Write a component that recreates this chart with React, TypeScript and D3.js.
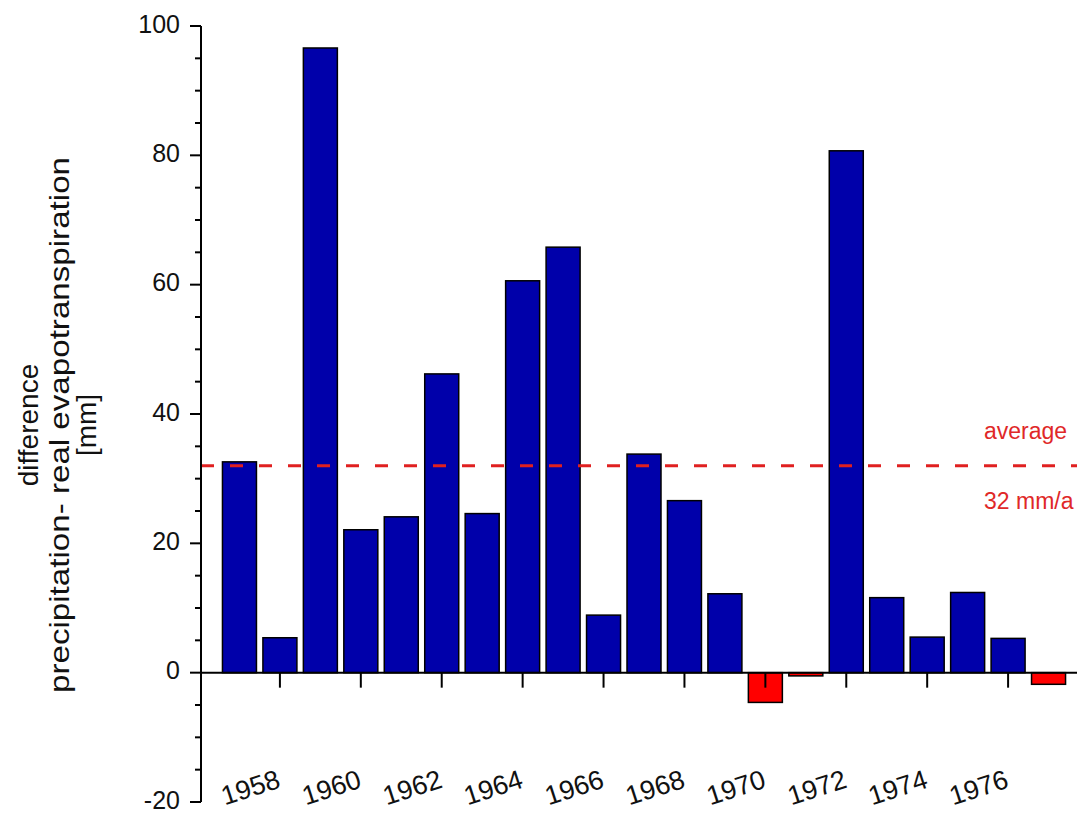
import React from "react";
import * as d3 from "d3";

// Annual difference precipitation - real evapotranspiration [mm]
const years = [
  1957, 1958, 1959, 1960, 1961, 1962, 1963, 1964, 1965, 1966, 1967,
  1968, 1969, 1970, 1971, 1972, 1973, 1974, 1975, 1976, 1977,
];
const values = [
  32.6, 5.4, 96.6, 22.1, 24.1, 46.2, 24.6, 60.6, 65.8, 8.9, 33.8,
  26.6, 12.2, -4.6, -0.5, 80.7, 11.6, 5.5, 12.4, 5.3, -1.8,
];
const yMajorTicks = [-20, 0, 20, 40, 60, 80, 100];
const xTickYears = [1958, 1960, 1962, 1964, 1966, 1968, 1970, 1972, 1974, 1976];
const averageValue = 32;
const averageLabels = ["average", "32 mm/a"];
const yTitleLines = ["difference", "precipitation- real evapotranspiration", "[mm]"];

const W = 1077;
const H = 814;
const FONT = "Arial, 'Liberation Sans', Helvetica, sans-serif";

export default function App() {
  const x = d3.scaleLinear().domain([1956, 1978]).range([199, 1089]);
  const y = d3.scaleLinear().domain([-20, 100]).range([802, 26]);
  const axisX = 201;
  const barHalf = 17;
  const minorTicks = d3.range(-20, 100.01, 5);

  return (
    <div style={{ position: "absolute", left: 0, top: 0 }}>
      <svg width={W} height={H} style={{ display: "block", background: "#fff" }}>
        {/* bars */}
        {years.map((yr, i) => {
          const v = values[i];
          const y0 = y(0);
          const yv = y(v);
          return (
            <rect
              key={yr}
              x={x(yr) - barHalf}
              y={Math.min(y0, yv)}
              width={barHalf * 2}
              height={Math.abs(yv - y0)}
              fill={v >= 0 ? "#0000aa" : "#ff0000"}
              stroke="#000"
              strokeWidth={1.5}
            />
          );
        })}

        {/* average line */}
        <line
          x1={axisX}
          x2={W}
          y1={y(averageValue)}
          y2={y(averageValue)}
          stroke="#e02020"
          strokeWidth={2.8}
          strokeDasharray="13 16"
        />
        <text x={984} y={y(averageValue) - 27} fill="#e02828" fontFamily={FONT} fontSize={23}>
          {averageLabels[0]}
        </text>
        <text x={984} y={y(averageValue) + 43} fill="#e02828" fontFamily={FONT} fontSize={23}>
          {averageLabels[1]}
        </text>

        {/* x axis at zero */}
        <line x1={axisX} x2={W} y1={y(0)} y2={y(0)} stroke="#000" strokeWidth={2} />
        {xTickYears.map((yr) => (
          <g key={yr}>
            <line x1={x(yr)} x2={x(yr)} y1={y(0)} y2={y(0) + 15} stroke="#000" strokeWidth={2} />
            <text
              transform={`translate(${x(yr) + 2},${787}) rotate(-18)`}
              textAnchor="end"
              fontFamily={FONT}
              fontSize={27}
              fill="#111"
            >
              {yr}
            </text>
          </g>
        ))}

        {/* y axis */}
        <line x1={axisX} x2={axisX} y1={y(100)} y2={y(-20)} stroke="#000" strokeWidth={2} />
        {minorTicks.map((t) => (
          <line
            key={t}
            x1={axisX - (t % 20 === 0 ? 11 : 6)}
            x2={axisX}
            y1={y(t)}
            y2={y(t)}
            stroke="#000"
            strokeWidth={2}
          />
        ))}
        {yMajorTicks.map((t) => (
          <text
            key={t}
            x={180}
            y={y(t)}
            dy="0.27em"
            textAnchor="end"
            fontFamily={FONT}
            fontSize={25}
            fill="#111"
          >
            {t}
          </text>
        ))}

        {/* y axis title */}
        <g transform="translate(0,425) rotate(-90)" fontFamily={FONT} fill="#111" textAnchor="middle">
          <text x={0} y={38} fontSize={28}>{yTitleLines[0]}</text>
          <text x={0} y={69} fontSize={28} textLength={536} lengthAdjust="spacingAndGlyphs">
            {yTitleLines[1]}
          </text>
          <text x={0} y={96} fontSize={28}>{yTitleLines[2]}</text>
        </g>
      </svg>
    </div>
  );
}
